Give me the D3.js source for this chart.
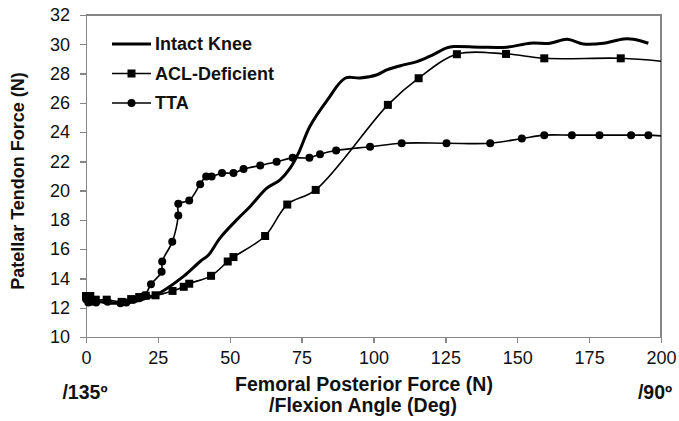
<!DOCTYPE html>
<html lang="en">
<head>
<meta charset="utf-8">
<title>Patellar Tendon Force</title>
<script src="https://cdn.jsdelivr.net/npm/d3@7"></script>
<style>
  body { margin: 0; background: #fff; }
  svg { font-family: "Liberation Sans", Arial, sans-serif; }
  .axis path, .axis line { stroke: #868686; stroke-width: 1.3; shape-rendering: crispEdges; }
  .axis text { font-size: 18px; fill: #111; }
  .title { font-size: 18px; font-weight: bold; fill: #111; }
  .xtitle { font-size: 19.5px; }
</style>
</head>
<body>
<svg id="chart" width="679" height="421"></svg>
<script>
// series data: [femoral posterior force (N), patellar tendon force (N)]
var intactKnee = [[0,12.5],[5,12.4],[10,12.3],[15,12.35],[20,12.6],[24,12.85],[28,13.3],[33.9,14.14],
  [39.7,15.16],[42.6,15.6],[46.6,16.76],[52.4,18.0],[57.1,18.92],[62.9,20.17],[67.5,20.74],[71,21.54],
  [74,22.6],[77.9,24.4],[84,26.2],[90.1,27.68],[95.3,27.7],[101,27.9],[104.6,28.25],[110.4,28.59],
  [115.1,28.81],[120.8,29.3],[125.5,29.75],[128,29.84],[137,29.8],[146.4,29.8],[154.5,30.07],
  [161.4,30.07],[167.3,30.34],[173,30.02],[180,30.07],[187,30.36],[190.4,30.34],[195.6,30.07]];

var aclDeficient = [[0,12.8],[0.6,12.6],[1.5,12.8],[3.4,12.55],[7.2,12.55],[12.4,12.4],[15.7,12.59],
  [18.5,12.73],[20.8,12.82],[24.2,12.85],[30.1,13.15],[34,13.43],[35.9,13.64],[43.5,14.18],
  [49.3,15.16],[51.3,15.46],[62.3,16.9],[70,19.05],[79.9,20.05],[105,25.86],[115.7,27.68],
  [129,29.32],[146.1,29.34],[159.4,29.04],[186,29.04],[200,28.84]];

var tta = [[0,12.6],[0.8,12.35],[1.8,12.4],[3.5,12.35],[7.5,12.4],[12,12.3],[14,12.35],[16.5,12.55],
  [18.5,12.65],[20.5,12.85],[22.6,13.6],[26.3,14.45],[26.5,15.16],[30,16.5],[32.1,18.3],[32.1,19.1],
  [35.9,19.33],[39.7,20.44],[41.8,20.96],[43.7,20.96],[47.3,21.2],[51.3,21.2],[54.8,21.47],
  [60.6,21.72],[66.3,21.97],[71.9,22.24],[77.7,22.24],[81.4,22.49],[87,22.74],[98.8,23.0],
  [109.8,23.24],[125.4,23.24],[140.6,23.24],[151.6,23.56],[159.4,23.79],[169,23.79],[178.6,23.79],
  [189.6,23.79],[195.6,23.79],[200,23.74]];

var xTicks = [0, 25, 50, 75, 100, 125, 150, 175, 200];
var yTicks = [10, 12, 14, 16, 18, 20, 22, 24, 26, 28, 30, 32];
var legendNames = ["Intact Knee", "ACL-Deficient", "TTA"];

var svg = d3.select("#chart");

var x = d3.scaleLinear().domain([0, 200]).range([86, 661]);
var y = d3.scaleLinear().domain([10, 32]).range([337, 15]);

// frame (top and right)
svg.append("path")
   .attr("d", "M" + x(0) + "," + y(32) + "H" + x(200) + "V" + y(10))
   .attr("fill", "none")
   .attr("stroke", "#868686")
   .attr("stroke-width", 1.3)
   .attr("shape-rendering", "crispEdges");

svg.append("g")
   .attr("class", "axis")
   .attr("transform", "translate(0," + y(10) + ")")
   .call(d3.axisBottom(x).tickValues(xTicks).tickSize(6).tickPadding(8).tickSizeOuter(0));

svg.append("g")
   .attr("class", "axis")
   .attr("transform", "translate(" + x(0) + ",0)")
   .call(d3.axisLeft(y).tickValues(yTicks).tickSize(6).tickPadding(10).tickSizeOuter(0));

// lines
var line = d3.line()
   .x(function(d){ return x(d[0]); })
   .y(function(d){ return y(d[1]); })
   .curve(d3.curveCatmullRom.alpha(0.5));

svg.append("path").datum(tta)
   .attr("d", line).attr("fill", "none").attr("stroke", "#000").attr("stroke-width", 1.6);
svg.append("path").datum(aclDeficient)
   .attr("d", line).attr("fill", "none").attr("stroke", "#000").attr("stroke-width", 1.6);
svg.append("path").datum(intactKnee)
   .attr("d", line).attr("fill", "none").attr("stroke", "#000").attr("stroke-width", 3);

// markers (last point of each is the line end, no marker)
var sq = 8;
svg.append("g").selectAll("rect")
   .data(aclDeficient.slice(0, -1))
   .enter().append("rect")
   .attr("x", function(d){ return x(d[0]) - sq/2; })
   .attr("y", function(d){ return y(d[1]) - sq/2; })
   .attr("width", sq).attr("height", sq)
   .attr("fill", "#000");

svg.append("g").selectAll("circle")
   .data(tta.slice(0, -1))
   .enter().append("circle")
   .attr("cx", function(d){ return x(d[0]); })
   .attr("cy", function(d){ return y(d[1]); })
   .attr("r", 4)
   .attr("fill", "#000");

// legend
var lg = svg.append("g").attr("transform", "translate(112,44)");
legendNames.forEach(function(name, i){
   var yy = i * 29.5;
   lg.append("line").attr("x1", 0).attr("x2", 39).attr("y1", yy).attr("y2", yy)
     .attr("stroke", "#000").attr("stroke-width", i === 0 ? 3 : 1.6);
   if (i === 1) lg.append("rect").attr("x", 19.5 - sq/2).attr("y", yy - sq/2).attr("width", sq).attr("height", sq).attr("fill", "#000");
   if (i === 2) lg.append("circle").attr("cx", 19.5).attr("cy", yy).attr("r", 4).attr("fill", "#000");
   lg.append("text").attr("class", "title").attr("x", 43).attr("y", yy).attr("dy", "0.35em").text(name);
});

// axis titles
svg.append("text").attr("class", "title")
   .attr("transform", "translate(24,181) rotate(-90)")
   .attr("text-anchor", "middle")
   .text("Patellar Tendon Force (N)");

svg.append("text").attr("class", "title xtitle")
   .attr("x", 364).attr("y", 391).attr("text-anchor", "middle")
   .text("Femoral Posterior Force (N)");
svg.append("text").attr("class", "title xtitle")
   .attr("x", 363).attr("y", 412).attr("text-anchor", "middle")
   .text("/Flexion Angle (Deg)");

svg.append("text").attr("class", "title xtitle")
   .attr("x", 85).attr("y", 399).attr("text-anchor", "middle")
   .text("/135º");
svg.append("text").attr("class", "title xtitle")
   .attr("x", 655).attr("y", 399).attr("text-anchor", "middle")
   .text("/90º");
</script>
</body>
</html>
